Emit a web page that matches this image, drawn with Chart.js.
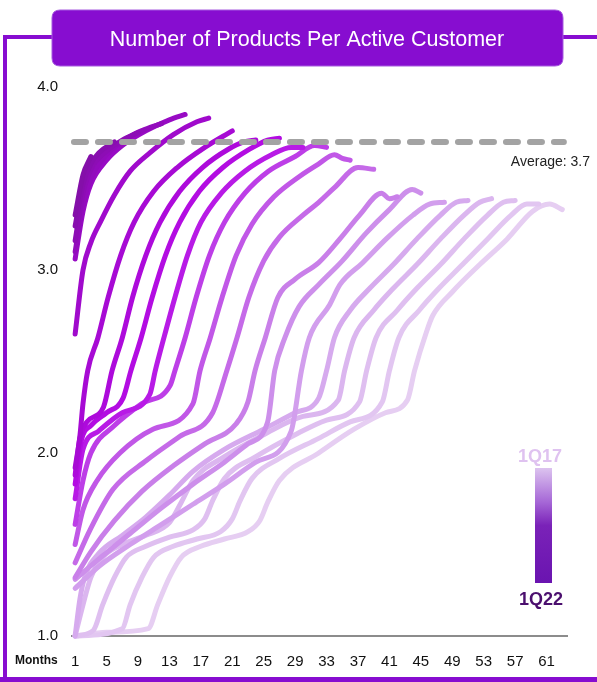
<!DOCTYPE html>
<html>
<head>
<meta charset="utf-8">
<script src="https://cdn.jsdelivr.net/npm/chart.js@4.4.1/dist/chart.umd.min.js"></script>
<style>
  html, body { margin: 0; padding: 0; background: #ffffff; }
  #wrap { width: 597px; height: 682px; position: relative; }
  canvas { display: block; }
</style>
</head>
<body>
<div id="wrap"><canvas id="c" width="597" height="682"></canvas></div>
<script>
// Products per active customer, one line per quarterly customer cohort.
// Each point is [month, products per customer].
const q1_17 = [[1,1.0],[5,1.02],[10.3,1.04],[11.5,1.17],[13,1.32],[14.5,1.43],[17,1.49],[20,1.53],[23,1.57],[24.5,1.63],[25.5,1.73],[27,1.85],[32,2.0],[36.5,2.13],[40.5,2.22],[43.3,2.29],[44.2,2.45],[45.7,2.66],[46.5,2.75],[49,2.88],[52.5,3.03],[56,3.17],[59.2,3.32],[61.4,3.36],[63,3.33]];
const q2_17 = [[1,1.0],[7,1.04],[8,1.17],[9.5,1.32],[11,1.43],[13.5,1.49],[16.5,1.53],[19.5,1.57],[21,1.64],[22,1.74],[23.5,1.86],[27,1.97],[32,2.08],[36,2.17],[40.1,2.28],[41,2.45],[42.2,2.63],[44.8,2.78],[47.3,2.9],[50.3,3.03],[53.5,3.17],[56.5,3.3],[58.5,3.36],[60,3.36]];
const q3_17 = [[1,1.0],[3.3,1.03],[4.5,1.17],[6,1.32],[7.5,1.43],[10,1.49],[13,1.54],[16,1.58],[17.5,1.64],[18.5,1.74],[20,1.86],[24,1.98],[29,2.1],[33,2.18],[37.2,2.28],[38.1,2.45],[39.3,2.63],[42,2.78],[44.5,2.9],[47.5,3.03],[50.5,3.17],[53.5,3.3],[55.5,3.37],[57,3.38]];
const q4_17 = [[1,1.0],[2,1.17],[3,1.32],[4.5,1.43],[7,1.5],[10,1.55],[13,1.62],[14.5,1.73],[16,1.85],[20,1.98],[25,2.1],[30,2.2],[34.5,2.29],[35.3,2.45],[36.5,2.63],[39,2.78],[41.5,2.9],[44.5,3.03],[47.5,3.17],[50.5,3.3],[52.5,3.37],[54,3.39]];
const q1_18 = [[1,1.0],[1.6,1.2],[2.2,1.32],[4,1.45],[7,1.55],[10,1.65],[13,1.77],[16,1.9],[20,2.02],[25,2.13],[29,2.22],[32,2.3],[33,2.45],[34,2.63],[36,2.78],[38.5,2.9],[41.5,3.03],[44.5,3.17],[47.5,3.3],[49.5,3.37],[51,3.38]];
const q2_18 = [[1,1.26],[4,1.38],[8,1.5],[12,1.61],[16,1.72],[20,1.83],[24,1.95],[28.5,2.12],[29.8,2.45],[30.8,2.63],[33.4,2.81],[34.7,2.92],[37.6,3.04],[40.6,3.17],[44,3.3],[46.1,3.36],[48,3.37]];
const q3_18 = [[1,1.31],[4,1.42],[8,1.56],[12,1.7],[16,1.83],[20,1.95],[23,2.05],[25.5,2.17],[26.4,2.45],[27.7,2.63],[29.5,2.8],[32,2.92],[35,3.05],[38,3.2],[41,3.33],[43.9,3.44],[45,3.42]];
const q4_18 = [[1,1.32],[3,1.46],[6,1.63],[9.5,1.79],[13.5,1.93],[17.5,2.05],[21.5,2.16],[23,2.28],[23.9,2.45],[25.2,2.63],[26.8,2.85],[29,2.95],[32,3.04],[34.7,3.17],[37.2,3.3],[40,3.42],[41,3.39],[42,3.4]];
const q1_19 = [[1,1.4],[2.9,1.58],[5.8,1.8],[10.1,1.96],[14.3,2.09],[18.5,2.22],[20.3,2.45],[21.6,2.63],[23.1,2.85],[25,3.05],[27,3.18],[30,3.3],[32,3.37],[34,3.45],[37,3.56],[39,3.55]];
const q2_19 = [[1,1.5],[2,1.69],[3.8,1.85],[6.7,2.0],[10.9,2.13],[16,2.27],[16.9,2.45],[18.2,2.63],[19.7,2.85],[21.5,3.08],[23.5,3.25],[26.3,3.4],[29.5,3.51],[32,3.58],[34,3.63],[35,3.61],[36,3.6]];
const q3_19 = [[1,1.61],[2,1.85],[3,2.0],[6,2.15],[9.5,2.27],[13.1,2.37],[13.7,2.45],[15,2.63],[16.4,2.85],[18.1,3.08],[20,3.26],[22.6,3.42],[25.6,3.54],[29,3.62],[31.5,3.68],[33,3.67]];
const q4_19 = [[1,1.75],[2,2.02],[4,2.12],[7,2.22],[10.5,2.32],[11.2,2.45],[12.3,2.63],[13.7,2.85],[15.3,3.08],[17,3.26],[19.6,3.42],[22.6,3.54],[26,3.63],[28.5,3.67],[30,3.67]];
const q1_20 = [[1,1.83],[1.8,2.07],[3,2.15],[5,2.22],[7.1,2.3],[8.1,2.45],[9.4,2.63],[10.8,2.85],[12.5,3.08],[14.3,3.26],[16.8,3.43],[19.8,3.56],[23.2,3.66],[25.5,3.71],[27,3.72]];
const q2_20 = [[1,1.88],[1.6,2.08],[2.5,2.17],[4.6,2.25],[5.7,2.45],[7,2.63],[8.3,2.85],[10,3.08],[11.8,3.26],[14.3,3.43],[17.2,3.56],[20.5,3.66],[22.5,3.7],[24,3.71]];
const q3_20 = [[1,1.92],[1.6,2.09],[2,2.27],[2.6,2.45],[3.9,2.63],[5.2,2.85],[6.8,3.08],[8.5,3.26],[11,3.43],[14,3.56],[17.5,3.67],[21,3.76]];
const q4_20 = [[1,2.65],[2,3.0],[3,3.15],[4.3,3.27],[6,3.41],[8,3.54],[10.5,3.64],[13.5,3.74],[16.5,3.81],[18,3.83]];
const q1_21 = [[1,3.06],[2,3.32],[3,3.47],[5,3.6],[7,3.68],[10,3.76],[13,3.82],[15,3.85]];
const q2_21 = [[1,3.1],[2,3.36],[3,3.5],[5,3.63],[8,3.73],[10,3.77],[12,3.8]];
const q3_21 = [[1,3.16],[2,3.42],[3,3.55],[5,3.65],[7,3.71],[9,3.75]];
const q4_21 = [[1,3.24],[2,3.47],[3,3.58],[4,3.64],[6,3.7]];
const q1_22 = [[1,3.3],[2,3.52],[3,3.62]];

const cohortLabels = ['1Q17','2Q17','3Q17','4Q17','1Q18','2Q18','3Q18','4Q18','1Q19','2Q19','3Q19','4Q19','1Q20','2Q20','3Q20','4Q20','1Q21','2Q21','3Q21','4Q21','1Q22'];
const cohortSeries = [q1_17,q2_17,q3_17,q4_17,q1_18,q2_18,q3_18,q4_18,q1_19,q2_19,q3_19,q4_19,q1_20,q2_20,q3_20,q4_20,q1_21,q2_21,q3_21,q4_21,q1_22];
const cohortColors = ['#e6cef2','#e2c6f1','#dfbff0','#dbb6ef','#d6aaee','#d29eed','#cd8feb','#c97fe9','#c56ae8','#c157e7','#bd3ee7','#b81ae6','#b30ce2','#ad0adb','#a70ad4','#a00acc','#980bc4','#920cbc','#8d0db5','#880eaf','#840fa9'];

const averageValue = 3.7;
const monthTicks = [1,5,9,13,17,21,25,29,33,37,41,45,49,53,57,61];
const valueTicks = [1,2,3,4];

const PURPLE = '#870dd0';
const FONT = '"Liberation Sans", Arial, Helvetica, sans-serif';

const datasets = cohortSeries.map((pts, i) => ({
  label: cohortLabels[i],
  data: pts.map(p => ({ x: p[0], y: p[1] })),
  borderColor: cohortColors[i],
  borderWidth: 5,
  borderCapStyle: 'round',
  borderJoinStyle: 'round',
  cubicInterpolationMode: 'monotone',
  pointRadius: 0,
  fill: false,
  clip: false,
  order: 40 - i
}));

datasets.push({
  label: 'Average',
  data: [{ x: 0.85, y: averageValue }, { x: 63.2, y: averageValue }],
  borderColor: '#a3a3a3',
  borderWidth: 6,
  borderDash: [12, 12],
  borderCapStyle: 'round',
  pointRadius: 0,
  fill: false,
  clip: false,
  order: 0
});

function roundRect(ctx, x, y, w, h, r) {
  ctx.beginPath();
  ctx.moveTo(x + r, y);
  ctx.lineTo(x + w - r, y);
  ctx.quadraticCurveTo(x + w, y, x + w, y + r);
  ctx.lineTo(x + w, y + h - r);
  ctx.quadraticCurveTo(x + w, y + h, x + w - r, y + h);
  ctx.lineTo(x + r, y + h);
  ctx.quadraticCurveTo(x, y + h, x, y + h - r);
  ctx.lineTo(x, y + r);
  ctx.quadraticCurveTo(x, y, x + r, y);
  ctx.closePath();
}

const framePlugin = {
  id: 'frame',
  beforeDraw(chart) {
    const ctx = chart.ctx;
    ctx.save();
    ctx.fillStyle = '#ffffff';
    ctx.fillRect(0, 0, chart.width, chart.height);
    // outer frame
    ctx.strokeStyle = PURPLE;
    ctx.lineWidth = 4;
    ctx.beginPath();
    ctx.moveTo(5, 684);
    ctx.lineTo(5, 37);
    ctx.lineTo(60, 37);
    ctx.moveTo(550, 37);
    ctx.lineTo(600, 37);
    ctx.stroke();
    ctx.fillStyle = PURPLE;
    ctx.fillRect(0, 677, 597, 5);
    // title box
    roundRect(ctx, 52, 10, 511, 56, 8);
    ctx.fillStyle = PURPLE;
    ctx.fill();
    ctx.strokeStyle = '#a65adf';
    ctx.lineWidth = 1;
    ctx.stroke();
    ctx.fillStyle = '#ffffff';
    ctx.font = '21.5px ' + FONT;
    ctx.textAlign = 'center';
    ctx.textBaseline = 'middle';
    ctx.fillText('Number of Products Per Active Customer', 307, 40);
    ctx.restore();
  },
  afterDraw(chart) {
    const ctx = chart.ctx;
    const y = chart.scales.y;
    ctx.save();
    // axis caption
    ctx.fillStyle = '#111111';
    ctx.font = 'bold 12px ' + FONT;
    ctx.textAlign = 'left';
    ctx.textBaseline = 'middle';
    ctx.fillText('Months', 15, 661);
    // average caption
    ctx.font = '14px ' + FONT;
    ctx.fillStyle = '#222222';
    ctx.textAlign = 'right';
    ctx.fillText('Average: ' + averageValue.toFixed(1), 590, y.getPixelForValue(averageValue) + 20);
    // cohort colour key
    const g = ctx.createLinearGradient(0, 468, 0, 583);
    g.addColorStop(0, '#dcc3ef');
    g.addColorStop(0.3, '#a566d6');
    g.addColorStop(0.5, '#7a22b8');
    g.addColorStop(1, '#6a14b0');
    ctx.fillStyle = g;
    ctx.fillRect(535, 468, 17, 115);
    ctx.font = 'bold 18px ' + FONT;
    ctx.textAlign = 'center';
    ctx.fillStyle = '#dfc2f0';
    ctx.fillText(cohortLabels[0], 540, 457);
    ctx.fillStyle = '#4b0f6e';
    ctx.fillText(cohortLabels[cohortLabels.length - 1], 541, 600);
    ctx.restore();
  }
};

new Chart(document.getElementById('c'), {
  type: 'line',
  data: { datasets },
  options: {
    responsive: false,
    animation: false,
    events: [],
    devicePixelRatio: 1,
    layout: { padding: { left: 0, top: 87, right: 30, bottom: 0 } },
    plugins: { legend: { display: false }, tooltip: { enabled: false } },
    scales: {
      x: {
        type: 'linear',
        min: 0.6,
        max: 63.6,
        afterFit(s) { s.height = 46; },
        afterBuildTicks(s) { s.ticks = monthTicks.map(v => ({ value: v })); },
        grid: { display: false, drawTicks: false },
        border: { display: true, color: '#8c8c8c', width: 2 },
        ticks: {
          autoSkip: false,
          maxRotation: 0,
          padding: 17,
          color: '#111111',
          font: { family: FONT, size: 15 },
          callback: v => String(v)
        }
      },
      y: {
        type: 'linear',
        min: 1,
        max: 4,
        afterFit(s) { s.width = 72; },
        afterBuildTicks(s) { s.ticks = valueTicks.map(v => ({ value: v })); },
        grid: { display: false, drawTicks: false },
        border: { display: false },
        ticks: {
          padding: 14,
          color: '#111111',
          font: { family: FONT, size: 15 },
          callback: v => Number(v).toFixed(1)
        }
      }
    }
  },
  plugins: [framePlugin]
});
</script>
</body>
</html>
